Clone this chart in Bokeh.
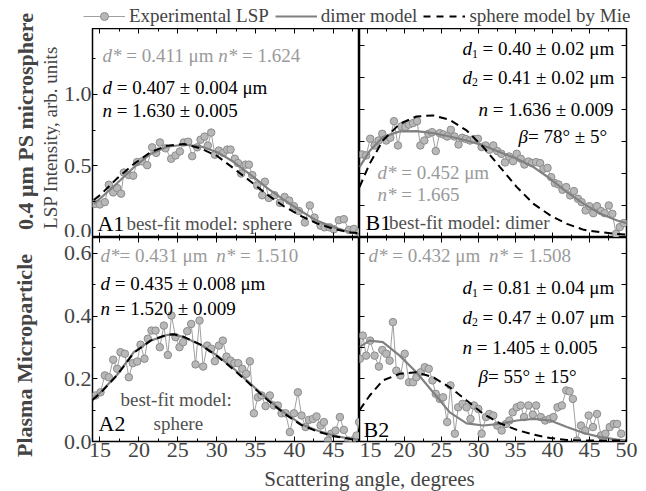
import numpy as np
from bokeh.plotting import figure
from bokeh.models import (Range1d, LinearAxis, FixedTicker, Label, Legend, LegendItem,
                          PrintfTickFormatter)
from bokeh.layouts import row, column
from bokeh.embed import file_html
from bokeh.resources import INLINE

FONT = "Liberation Serif"
GRAY_TXT = "#9a9a9a"
DARK_TXT = "#505050"

# ---------------- data ----------------
A1_x = [14.34, 14.98, 15.62, 16.14, 16.70, 17.21, 17.72, 18.07, 18.71, 19.27, 19.78, 20.42, 21.07,
        21.71, 22.22, 22.70, 23.42, 24.15, 24.71, 25.27, 25.78, 26.34, 26.85, 27.49, 27.92, 28.44,
        28.86, 29.29, 29.76, 30.27, 30.83, 31.35, 31.78, 32.33, 32.74, 33.15, 33.71, 34.14, 34.57,
        35.21, 35.85, 36.19, 36.70, 37.43, 38.12, 38.72, 39.32, 39.92, 40.56, 41.33, 41.97, 42.57,
        43.35, 43.86, 44.50, 45.06, 45.70, 46.34, 46.99, 47.63, 48.27]
A1_y = [0.235, 0.231, 0.247, 0.368, 0.315, 0.345, 0.306, 0.454, 0.436, 0.432, 0.527, 0.532, 0.505,
        0.630, 0.591, 0.664, 0.623, 0.550, 0.573, 0.601, 0.664, 0.669, 0.568, 0.630, 0.683, 0.705,
        0.642, 0.733, 0.578, 0.607, 0.591, 0.614, 0.614, 0.550, 0.520, 0.447, 0.509, 0.509, 0.436,
        0.363, 0.295, 0.390, 0.276, 0.295, 0.242, 0.283, 0.258, 0.219, 0.185, 0.105, 0.224, 0.139,
        0.082, 0.071, 0.071, 0.057, 0.121, 0.128, 0.053, 0.060, 0.036]
A1_mx = [14.2, 15.1, 17.2, 19.4, 21.5, 23.6, 25.8, 27.9, 30.1, 32.2, 34.4, 36.5, 38.6, 40.8, 42.9,
         45.1, 47.2, 48.3]
A1_dimer = [0.235, 0.276, 0.379, 0.493, 0.584, 0.634, 0.648, 0.637, 0.596, 0.527, 0.436, 0.345,
            0.265, 0.185, 0.116, 0.071, 0.037, 0.025]
A1_mie = [0.262, 0.300, 0.413, 0.516, 0.596, 0.641, 0.653, 0.623, 0.568, 0.482, 0.390, 0.299,
          0.219, 0.151, 0.098, 0.059, 0.035, 0.030]

B1_x = [14.26, 14.80, 15.35, 15.94, 16.48, 16.98, 17.52, 18.07, 18.56, 19.10, 19.56, 20.10, 20.59,
        21.14, 21.68, 22.13, 22.67, 23.22, 23.71, 24.21, 24.75, 25.25, 25.75, 26.25, 26.74, 27.29,
        27.78, 28.28, 28.83, 29.37, 29.91, 30.41, 30.95, 31.45, 31.99, 32.53, 33.08, 33.57, 34.12,
        34.66, 35.16, 35.70, 36.20, 36.74, 37.24, 37.78, 38.32, 38.78, 39.32, 39.82, 40.31, 40.81,
        41.35, 41.85, 42.39, 42.89, 43.43, 43.93, 44.47, 44.97, 45.51, 46.01, 46.56, 47.05, 47.60,
        48.09, 48.59, 49.09, 49.63]
B1_y = [0.519, 0.513, 0.617, 0.575, 0.606, 0.648, 0.606, 0.623, 0.727, 0.575, 0.694, 0.690, 0.706,
        0.715, 0.727, 0.575, 0.606, 0.648, 0.658, 0.540, 0.652, 0.644, 0.631, 0.673, 0.631, 0.581,
        0.623, 0.615, 0.606, 0.615, 0.617, 0.565, 0.575, 0.548, 0.575, 0.540, 0.523, 0.469, 0.506,
        0.477, 0.523, 0.492, 0.456, 0.475, 0.465, 0.471, 0.465, 0.429, 0.435, 0.377, 0.340, 0.331,
        0.298, 0.315, 0.263, 0.290, 0.242, 0.221, 0.169, 0.196, 0.152, 0.196, 0.165, 0.152, 0.200,
        0.148, 0.023, 0.065, 0.090]
B_mx = [13.9, 15.26, 17.06, 19.33, 21.59, 23.85, 26.11, 28.38, 30.64, 32.90, 35.17, 37.43, 39.69,
        41.95, 44.22, 46.48, 48.74, 50.0]
B1_dimer = [0.44, 0.54, 0.627, 0.663, 0.665, 0.652, 0.631, 0.606, 0.575, 0.533, 0.492, 0.440,
            0.367, 0.283, 0.210, 0.148, 0.106, 0.090]
B1_mie = [0.315, 0.46, 0.606, 0.710, 0.756, 0.763, 0.735, 0.669, 0.565, 0.44, 0.315, 0.210, 0.138,
          0.085, 0.048, 0.033, 0.022, 0.019]

A2_x = [14.43, 15.07, 15.62, 16.14, 16.70, 17.21, 17.64, 18.20, 18.71, 19.22, 19.78, 20.21, 20.72,
        21.15, 21.62, 22.14, 22.69, 23.21, 23.72, 24.19, 24.71, 25.22, 25.69, 26.21, 26.72, 27.28,
        27.79, 28.26, 28.78, 29.29, 29.76, 30.28, 30.79, 31.26, 31.78, 32.29, 32.76, 33.28, 33.79,
        34.26, 34.78, 35.29, 35.76, 36.28, 36.83, 37.35, 37.86, 38.33, 38.85, 39.40, 39.92, 40.43,
        40.90, 41.42, 41.85, 42.36, 42.83, 43.35, 43.77, 44.29, 44.72, 45.27, 45.83, 46.34, 46.90,
        47.42, 47.97, 48.30]
A2_y = [0.147, 0.157, 0.211, 0.205, 0.261, 0.232, 0.285, 0.280, 0.205, 0.250, 0.255, 0.309, 0.264,
        0.328, 0.354, 0.354, 0.301, 0.370, 0.276, 0.402, 0.333, 0.301, 0.317, 0.352, 0.375, 0.246,
        0.386, 0.239, 0.306, 0.296, 0.256, 0.306, 0.322, 0.271, 0.258, 0.250, 0.250, 0.232, 0.216,
        0.256, 0.090, 0.141, 0.147, 0.113, 0.147, 0.115, 0.115, 0.090, 0.090, 0.030, 0.090, 0.157,
        0.083, 0.046, 0.069, 0.072, 0.080, 0.051, 0.062, 0.003, 0.025, 0.035, 0.078, 0.037, 0.003,
        0.003, 0.019, 0.062]
A2_mx = [14.00, 15.07, 17.21, 19.35, 21.50, 23.64, 24.49, 25.78, 27.92, 30.07, 32.21, 34.35, 36.50,
         38.64, 40.78, 42.92, 45.06, 47.20, 48.35]
A2_dimer = [0.136, 0.157, 0.213, 0.285, 0.322, 0.340, 0.341, 0.333, 0.309, 0.274, 0.232, 0.184,
            0.136, 0.093, 0.056, 0.035, 0.019, 0.008, 0.005]
A2_mie = [0.132, 0.155, 0.212, 0.283, 0.322, 0.341, 0.342, 0.334, 0.309, 0.272, 0.229, 0.181,
          0.133, 0.090, 0.054, 0.032, 0.017, 0.008, 0.005]

B2_x = [13.95, 14.35, 14.80, 15.35, 15.94, 16.52, 16.98, 17.52, 17.97, 18.42, 18.88, 19.43, 20.01,
        20.60, 21.14, 21.59, 22.18, 22.72, 23.26, 23.76, 24.21, 24.75, 25.20, 25.75, 26.20, 26.79,
        27.24, 27.83, 28.37, 28.91, 29.37, 29.96, 30.41, 31.00, 31.45, 31.99, 32.53, 33.12, 33.71,
        34.16, 34.61, 35.16, 35.70, 36.15, 36.74, 37.33, 37.78, 38.41, 39.00, 39.59, 40.13, 40.67,
        41.26, 41.85, 42.30, 42.75, 43.30, 43.84, 44.43, 44.88, 45.47, 46.01, 46.56, 47.15, 47.73,
        48.27, 48.73, 49.27]
B2_y = [0.264, 0.338, 0.274, 0.322, 0.274, 0.239, 0.292, 0.280, 0.258, 0.381, 0.226, 0.211, 0.280,
        0.189, 0.189, 0.205, 0.221, 0.237, 0.232, 0.195, 0.152, 0.136, 0.141, 0.062, 0.179, 0.025,
        0.109, 0.120, 0.109, 0.072, 0.115, 0.104, 0.025, 0.078, 0.088, 0.083, 0.051, 0.035, 0.056,
        0.067, 0.093, 0.109, 0.115, 0.078, 0.115, 0.086, 0.115, 0.078, 0.067, 0.072, 0.078, 0.109,
        0.115, 0.163, 0.160, 0.136, 0.003, 0.051, 0.035, 0.083, 0.046, 0.088, 0.019, 0.025, 0.046,
        0.056, 0.056, 0.025]
B2_dimer = [0.301, 0.322, 0.317, 0.274, 0.221, 0.157, 0.093, 0.058, 0.051, 0.056, 0.067, 0.072,
            0.067, 0.046, 0.027, 0.014, 0.006, 0.003]
B2_mie = [0.100, 0.146, 0.195, 0.216, 0.221, 0.205, 0.173, 0.131, 0.088, 0.058, 0.037, 0.022,
          0.011, 0.005, 0.003, 0.003, 0.003, 0.003]

# axis ranges and ticks
A_XRANGE = (14.04, 48.35)
B_XRANGE = (13.9, 50.0)
A1_YRANGE = (0, 1.46)
B1_YRANGE = (0, 1.306)
ROW2_YRANGE = (0, 0.651)
A_XTICKS = [15, 20, 25, 30, 35, 40, 45]
B_XTICKS = [15, 20, 25, 30, 35, 40, 45, 50]
X_MINOR = [17.5, 22.5, 27.5, 32.5, 37.5, 42.5, 47.5]
A1_YTICKS = [0.0, 0.5, 1.0]
A1_YMINOR = [0.25, 0.75, 1.25]
A2_YTICKS = [0.0, 0.2, 0.4, 0.6]
A2_YMINOR = [0.1, 0.3, 0.5]
B1_YTICKS = [0.0, 0.2, 0.4, 0.6, 0.8, 1.0, 1.2]
B2_YTICKS = [0.0, 0.1, 0.2, 0.3, 0.4, 0.5, 0.6]

# ---------------- helpers ----------------
WID = {' ': 0.25, '.': 0.25, ',': 0.25, '=': 0.564, '±': 0.564, 'μ': 0.5, '*': 0.5, '°': 0.4,
       ':': 0.278, '-': 0.333, 'm': 0.778, 'i': 0.278, 'l': 0.278, 't': 0.278, 'r': 0.333,
       'e': 0.444, 'a': 0.444, 'c': 0.444, 's': 0.389}


def tw(s, size):
    return sum(WID.get(c, 0.5) for c in s) * size


def rich(p, x, y, parts, size=19, color="black"):
    off = 0.0
    for txt, style in parts:
        fs = size * 0.62 if style == "sub" else size
        lead = len(txt) - len(txt.lstrip(' '))
        off += lead * 0.25 * fs
        core = txt.strip(' ')
        yoff = -5 if style == "sub" else 0
        p.add_layout(Label(x=x, y=y, x_offset=off, y_offset=yoff, text=core, text_font=FONT,
                           text_font_style="italic" if style == "italic" else "normal",
                           text_font_size=f"{fs:.1f}px", text_color=color,
                           text_baseline="middle", text_align="left"))
        off += tw(core, fs)
        trail = len(txt) - len(txt.rstrip(' '))
        off += trail * 0.25 * fs


def add_axis(p, side, ticks, minor, fmt=None):
    ax = LinearAxis(ticker=FixedTicker(ticks=ticks, minor_ticks=minor), axis_line_color=None,
                    major_tick_in=5, major_tick_out=0, minor_tick_in=3, minor_tick_out=0,
                    major_tick_line_color="black", minor_tick_line_color="black")
    if fmt:
        ax.formatter = PrintfTickFormatter(format=fmt)
        ax.major_label_text_font = FONT
        ax.major_label_text_font_size = "22px"
        ax.major_label_standoff = 1
    else:
        ax.major_label_text_font_size = "0px"
        ax.major_label_text_color = None
        ax.major_label_standoff = 0
    p.add_layout(ax, side)


def panel(w, h, xr, yr, bl, br, bb):
    p = figure(width=w, height=h, x_range=Range1d(*xr), y_range=Range1d(*yr),
               output_backend="svg", toolbar_location=None,
               x_axis_location=None, y_axis_location=None,
               min_border_left=bl, min_border_right=br, min_border_top=0, min_border_bottom=bb)
    p.xgrid.visible = False
    p.ygrid.visible = False
    p.outline_line_color = "black"
    p.outline_line_width = 1.5
    p.background_fill_color = "white"
    p.border_fill_color = "white"
    return p


def series(p, ex, ey, mx, dimer, mie):
    p.line(ex, ey, line_color="#a0a0a0", line_width=1)
    p.scatter(ex, ey, size=7.5, fill_color="#b8b8b8", line_color="#8c8c8c", line_width=1)
    p.line(mx, dimer, line_color="#808080", line_width=2.2)
    p.line(mx, mie, line_color="black", line_width=2, line_dash="8 5")


# ---------------- panels ----------------
A1 = panel(299, 209, A_XRANGE, A1_YRANGE, 32, 0, 0)
B1 = panel(287, 209, B_XRANGE, B1_YRANGE, 0, 20, 0)
A2 = panel(299, 228, A_XRANGE, ROW2_YRANGE, 32, 0, 24)
B2 = panel(287, 228, B_XRANGE, ROW2_YRANGE, 0, 20, 24)

add_axis(A1, "left", A1_YTICKS, A1_YMINOR, "%.1f")
add_axis(A1, "above", A_XTICKS, X_MINOR)
add_axis(A1, "below", A_XTICKS, X_MINOR)
add_axis(B1, "left", B1_YTICKS, [])
add_axis(B1, "right", B1_YTICKS, [])
add_axis(B1, "above", B_XTICKS, X_MINOR)
add_axis(B1, "below", B_XTICKS, X_MINOR)
add_axis(A2, "left", A2_YTICKS, A2_YMINOR, "%.1f")
add_axis(A2, "above", A_XTICKS, X_MINOR)
add_axis(A2, "below", A_XTICKS, X_MINOR, "%d")
add_axis(B2, "left", B2_YTICKS, [])
add_axis(B2, "right", B2_YTICKS, [])
add_axis(B2, "above", B_XTICKS, X_MINOR)
add_axis(B2, "below", B_XTICKS, X_MINOR, "%d")

series(A1, A1_x, A1_y, A1_mx, A1_dimer, A1_mie)
series(B1, B1_x, B1_y, B_mx, B1_dimer, B1_mie)
series(A2, A2_x, A2_y, A2_mx, A2_dimer, A2_mie)
series(B2, B2_x, B2_y, B_mx, B2_dimer, B2_mie)

# ---------------- annotations ----------------
rich(A1, 15.33, 1.273, [("d*", "italic"), (" = 0.411 μm ", "normal"), ("n*", "italic"),
                        (" = 1.624", "normal")], color=GRAY_TXT)
rich(A1, 15.33, 1.049, [("d", "italic"), (" = 0.407 ± 0.004 μm", "normal")])
rich(A1, 15.33, 0.888, [("n", "italic"), (" = 1.630 ± 0.005", "normal")])
rich(A1, 14.68, 0.098, [("A1", "normal")], size=22)
rich(A1, 18.40, 0.098, [("best-fit model: sphere", "normal")], color=DARK_TXT)

rich(B1, 27.82, 1.181, [("d", "italic"), ("1", "sub"), (" = 0.40 ±  0.02 μm", "normal")])
rich(B1, 27.82, 1.000, [("d", "italic"), ("2", "sub"), (" = 0.41 ±  0.02 μm", "normal")])
rich(B1, 29.98, 0.800, [("n", "italic"), (" = 1.636 ±  0.009", "normal")])
rich(B1, 35.39, 0.631, [("β", "italic"), ("= 78° ± 5°", "normal")])
rich(B1, 16.33, 0.406, [("d*", "italic"), (" = 0.452 μm", "normal")], color=GRAY_TXT)
rich(B1, 16.33, 0.269, [("n*", "italic"), (" = 1.665", "normal")], color=GRAY_TXT)
rich(B1, 14.71, 0.094, [("B1", "normal")], size=22)
rich(B1, 17.90, 0.094, [("best-fit model: dimer", "normal")], color=DARK_TXT)

rich(A2, 15.07, 0.593, [("d*", "italic"), ("= 0.431 μm  ", "normal"), ("n*", "italic"),
                        (" = 1.510", "normal")], color=GRAY_TXT)
rich(A2, 15.07, 0.504, [("d", "italic"), (" = 0.435 ± 0.008 μm", "normal")])
rich(A2, 15.07, 0.424, [("n", "italic"), (" = 1.520 ± 0.009", "normal")])
rich(A2, 17.64, 0.134, [("best-fit model:", "normal")], color=DARK_TXT)
rich(A2, 21.88, 0.057, [("sphere", "normal")], color=DARK_TXT)
rich(A2, 14.81, 0.057, [("A2", "normal")], size=22)

rich(B2, 15.12, 0.593, [("d*", "italic"), (" = 0.432 μm  ", "normal"), ("n*", "italic"),
                        (" = 1.508", "normal")], color=GRAY_TXT)
rich(B2, 27.82, 0.491, [("d", "italic"), ("1", "sub"), (" = 0.81 ±  0.04 μm", "normal")])
rich(B2, 27.82, 0.396, [("d", "italic"), ("2", "sub"), (" = 0.47 ±  0.07 μm", "normal")])
rich(B2, 27.82, 0.300, [("n", "italic"), (" = 1.405 ±  0.005", "normal")])
rich(B2, 29.98, 0.207, [("β", "italic"), ("= 55° ±  15°", "normal")])
rich(B2, 14.44, 0.038, [("B2", "normal")], size=22)

# ---------------- side labels ----------------
def blank(w, h):
    p = figure(width=w, height=h, x_range=Range1d(0, w), y_range=Range1d(0, h),
               output_backend="svg", toolbar_location=None,
               x_axis_location=None, y_axis_location=None,
               min_border_left=0, min_border_right=0, min_border_top=0, min_border_bottom=0)
    p.xgrid.visible = False
    p.ygrid.visible = False
    p.outline_line_color = None
    p.background_fill_color = "white"
    p.border_fill_color = "white"
    return p


left = blank(60, 491)
left.add_layout(Label(x=25, y=370, text="0.4 μm PS microsphere", angle=np.pi / 2,
                      text_align="center", text_baseline="middle", text_font=FONT,
                      text_font_style="bold", text_font_size="22px"))
left.add_layout(Label(x=24, y=136, text="Plasma Microparticle", angle=np.pi / 2,
                      text_align="center", text_baseline="middle", text_font=FONT,
                      text_font_style="bold", text_font_size="22px"))
left.add_layout(Label(x=50, y=354, text="LSP Intensity, arb. units", angle=np.pi / 2,
                      text_align="center", text_baseline="middle", text_font=FONT,
                      text_font_size="19px"))

leg = blank(586, 28)
OFF = [-50, -40]
r1 = leg.line(OFF, OFF, line_color="#a0a0a0", line_width=1)
r2 = leg.scatter(OFF, OFF, size=7, fill_color="#b8b8b8", line_color="#8c8c8c")
r3 = leg.line(OFF, OFF, line_color="#808080", line_width=2.2)
r4 = leg.line(OFF, OFF, line_color="black", line_width=2, line_dash="7 6")
legend = Legend(items=[LegendItem(label="Experimental LSP", renderers=[r1, r2]),
                       LegendItem(label="dimer model", renderers=[r3]),
                       LegendItem(label="sphere model by Mie", renderers=[r4])],
                location=(23, 1), orientation="horizontal", padding=0, margin=0, spacing=6,
                glyph_width=42, glyph_height=20, label_height=20, label_standoff=4,
                label_text_font=FONT, label_text_font_size="19px",
                background_fill_alpha=0, border_line_color=None)
leg.add_layout(legend)

xl = blank(586, 26)
xl.add_layout(Label(x=309, y=13, text="Scattering angle, degrees", text_align="center",
                    text_baseline="middle", text_font=FONT, text_font_size="21px"))

layout = row(left, column(leg, row(A1, B1), row(A2, B2), xl))

open("out.html", "w").write(file_html(layout, INLINE, "LSP"))
